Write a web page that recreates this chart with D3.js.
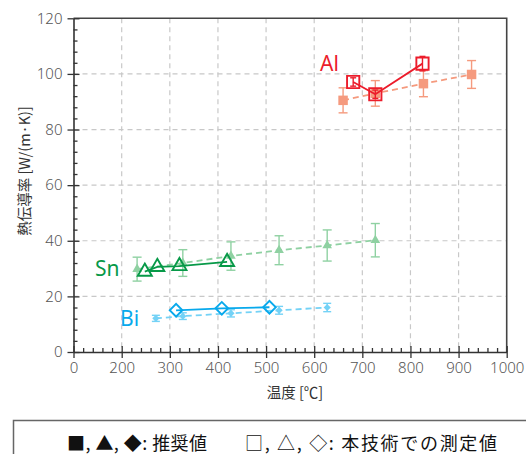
<!DOCTYPE html>
<html>
<head>
<meta charset="utf-8">
<script src="https://cdn.jsdelivr.net/npm/d3@7/dist/d3.min.js"></script>
<style>
  html, body { margin: 0; padding: 0; background: #fff; }
  svg { display: block; font-family: "Noto Sans CJK JP", "Noto Sans", sans-serif; }
</style>
</head>
<body>
<svg id="chart" width="526" height="454"></svg>
<script>
// Thermal conductivity of molten metals vs temperature
const xMajorTicks = [0, 200, 300, 400, 500, 600, 700, 800, 900, 1000];
const yMajorTicks = [0, 20, 40, 60, 80, 100, 120];

// Recommended values (filled markers, dashed line)
const alRecT   = [660, 727, 827, 927];
const alRecK   = [90.5, 93.0, 96.5, 99.8];
const alRecErr = [4.5, 4.6, 4.7, 5.0];

const snRecT   = [232, 327, 427, 527, 627, 727];
const snRecK   = [29.8, 32.0, 34.5, 36.6, 38.3, 40.2];
const snRecErr = [4.3, 4.8, 5.1, 5.2, 5.6, 6.0];

const biRecT   = [271, 327, 427, 527, 627];
const biRecK   = [12.1, 12.9, 13.9, 15.0, 16.0];
const biRecErr = [1.1, 1.2, 1.3, 1.4, 1.5];

// Values measured with this technique (open markers, solid line)
const alMeasT   = [681, 727, 825];
const alMeasK   = [97.1, 92.7, 103.7];
const alMeasErr = [1.5, 1.5, 2.6];

const snMeasT = [248, 274, 320, 419];
const snMeasK = [28.9, 30.6, 30.9, 32.4];

const biMeasT = [313, 408, 507];
const biMeasK = [15.0, 15.7, 16.1];

const svg = d3.select("#chart");

// Broken x axis: the 0–200 stretch takes the width of one 100 °C step
const x = d3.scaleLinear().domain([0, 200, 1000]).range([73.5, 121.7, 506.7]);
const y = d3.scaleLinear().domain([0, 120]).range([352, 18.3]);

const plotLeft = x(0), plotRight = x(1000), plotTop = y(120), plotBottom = y(0);

// Dashed grid
const grid = svg.append("g").attr("stroke", "#c8c8c8").attr("stroke-width", 1.2)
  .attr("stroke-dasharray", "5,4");
grid.selectAll("line.v").data(xMajorTicks.filter(d => d > 0 && d < 1000)).join("line")
  .attr("x1", d => x(d)).attr("x2", d => x(d)).attr("y1", plotTop).attr("y2", plotBottom);
grid.selectAll("line.h").data(yMajorTicks.filter(d => d > 0 && d < 120)).join("line")
  .attr("x1", plotLeft).attr("x2", plotRight).attr("y1", d => y(d)).attr("y2", d => y(d));

// Frame: top and right edges
svg.append("path")
  .attr("d", `M${plotLeft},${plotTop}H${plotRight}V${plotBottom}`)
  .attr("fill", "none").attr("stroke", "#444").attr("stroke-width", 1.6);

// Minor ticks
const xMinor = [40, 80, 120, 160];
for (let v = 220; v < 1000; v += 20) if (v % 100 !== 0) xMinor.push(v);
const yMinor = d3.range(4, 120, 4).filter(v => v % 20 !== 0);

function styleAxis(g) {
  g.select(".domain").attr("stroke", "#333").attr("stroke-width", 1.6);
  g.selectAll(".tick line").attr("stroke", "#333").attr("stroke-width", 1.3);
  g.selectAll(".tick text").attr("fill", "#555").style("font-size", "15px")
    .style("font-family", "'Noto Sans', 'DejaVu Sans', sans-serif").style("font-weight", "300");
}

// x axis
const gx = svg.append("g").attr("transform", `translate(0,${plotBottom})`);
gx.call(d3.axisBottom(x).tickValues(xMajorTicks).tickSizeInner(6).tickSizeOuter(0).tickPadding(4)
  .tickFormat(d3.format("d")));
styleAxis(gx);
const gxIn = svg.append("g").attr("transform", `translate(0,${plotBottom})`);
gxIn.call(d3.axisBottom(x).tickValues(xMajorTicks).tickSizeInner(-6).tickSizeOuter(0).tickFormat(""));
gxIn.call(g => g.select(".domain").remove());
styleAxis(gxIn);
const gxMinor = svg.append("g").attr("transform", `translate(0,${plotBottom})`);
gxMinor.call(d3.axisBottom(x).tickValues(xMinor).tickSizeInner(-4).tickSizeOuter(0).tickFormat(""));
gxMinor.call(g => g.select(".domain").remove());
styleAxis(gxMinor);

// y axis
const gy = svg.append("g").attr("transform", `translate(${plotLeft},0)`);
gy.call(d3.axisLeft(y).tickValues(yMajorTicks).tickSizeInner(6).tickSizeOuter(0).tickPadding(5));
styleAxis(gy);
const gyIn = svg.append("g").attr("transform", `translate(${plotLeft},0)`);
gyIn.call(d3.axisLeft(y).tickValues(yMajorTicks).tickSizeInner(-6).tickSizeOuter(0).tickFormat(""));
gyIn.call(g => g.select(".domain").remove());
styleAxis(gyIn);
const gyMinor = svg.append("g").attr("transform", `translate(${plotLeft},0)`);
gyMinor.call(d3.axisLeft(y).tickValues(yMinor).tickSizeInner(-4).tickSizeOuter(0).tickFormat(""));
gyMinor.call(g => g.select(".domain").remove());
styleAxis(gyMinor);

// Axis titles
svg.append("text")
  .attr("transform", "translate(23,171) rotate(-90)")
  .attr("text-anchor", "middle").attr("dominant-baseline", "central")
  .attr("fill", "#333").style("font-size", "14.5px")
  .text("熱伝導率 [W/(m·K)]");
svg.append("text")
  .attr("x", 295).attr("y", 398).attr("text-anchor", "middle")
  .attr("fill", "#333").style("font-size", "14.5px")
  .text("温度 [℃]");

const line = d3.line().x(d => x(d[0])).y(d => y(d[1]));

function drawSeries(opt) {
  const pts = opt.t.map((t, i) => [t, opt.k[i], opt.err ? opt.err[i] : 0]);
  const g = svg.append("g");
  g.append("path").attr("d", line(pts)).attr("fill", "none")
    .attr("stroke", opt.color).attr("stroke-width", opt.lineWidth)
    .attr("stroke-dasharray", opt.dash || null);
  if (opt.err) {
    const eb = g.append("g").attr("stroke", opt.color).attr("stroke-width", 1.4);
    const cap = opt.cap;
    eb.selectAll("line.s").data(pts).join("line")
      .attr("x1", d => x(d[0])).attr("x2", d => x(d[0]))
      .attr("y1", d => y(d[1] - d[2])).attr("y2", d => y(d[1] + d[2]));
    eb.selectAll("line.t").data(pts).join("line")
      .attr("x1", d => x(d[0]) - cap).attr("x2", d => x(d[0]) + cap)
      .attr("y1", d => y(d[1] + d[2])).attr("y2", d => y(d[1] + d[2]));
    eb.selectAll("line.b").data(pts).join("line")
      .attr("x1", d => x(d[0]) - cap).attr("x2", d => x(d[0]) + cap)
      .attr("y1", d => y(d[1] - d[2])).attr("y2", d => y(d[1] - d[2]));
  }
  g.selectAll("path.m").data(pts).join("path")
    .attr("d", d3.symbol().type(opt.symbol).size(opt.size))
    .attr("transform", d => `translate(${x(d[0])},${y(d[1])}) rotate(${opt.rotate || 0})`)
    .attr("fill", opt.filled ? opt.color : "none")
    .attr("stroke", opt.filled ? "none" : opt.color)
    .attr("stroke-width", opt.filled ? 0 : 1.9);
}

const alRecColor = "#f59a7e", alMeasColor = "#ec1c2b";
const snRecColor = "#8fd1a2", snMeasColor = "#079948";
const biRecColor = "#74d2f6", biMeasColor = "#08a9ec";

drawSeries({ t: alRecT, k: alRecK, err: alRecErr, color: alRecColor, lineWidth: 1.8, dash: "6,4",
  cap: 4.5, symbol: d3.symbolSquare, size: 90, filled: true });
drawSeries({ t: snRecT, k: snRecK, err: snRecErr, color: snRecColor, lineWidth: 1.8, dash: "6,4",
  cap: 4.5, symbol: d3.symbolTriangle, size: 40, filled: true });
drawSeries({ t: biRecT, k: biRecK, err: biRecErr, color: biRecColor, lineWidth: 1.8, dash: "6,4",
  cap: 4, symbol: d3.symbolSquare, size: 26, filled: true, rotate: 45 });

drawSeries({ t: alMeasT, k: alMeasK, err: alMeasErr, color: alMeasColor, lineWidth: 1.8,
  cap: 3, symbol: d3.symbolSquare, size: 150, filled: false });
drawSeries({ t: snMeasT, k: snMeasK, color: snMeasColor, lineWidth: 1.8,
  symbol: d3.symbolTriangle, size: 85, filled: false });
drawSeries({ t: biMeasT, k: biMeasK, color: biMeasColor, lineWidth: 1.8,
  symbol: d3.symbolSquare, size: 80, filled: false, rotate: 45 });

// Series labels
const labelFont = "'Noto Sans', 'DejaVu Sans', sans-serif";
svg.append("text").attr("x", 320).attr("y", 71).attr("fill", alMeasColor)
  .style("font-size", "21px").style("font-family", labelFont).text("Al");
svg.append("text").attr("x", 95).attr("y", 276).attr("fill", snMeasColor)
  .style("font-size", "21px").style("font-family", labelFont).text("Sn");
svg.append("text").attr("x", 120).attr("y", 326).attr("fill", biMeasColor)
  .style("font-size", "21px").style("font-family", labelFont).text("Bi");

// Marker key box
svg.append("rect").attr("x", 13.5).attr("y", 420.5).attr("width", 530).attr("height", 60)
  .attr("fill", "#fff").attr("stroke", "#666").attr("stroke-width", 1.5);
svg.append("text").attr("x", 67).attr("y", 450).attr("fill", "#111")
  .attr("textLength", 140).attr("lengthAdjust", "spacing")
  .style("font-size", "18px").text("■, ▲, ◆: 推奨値");
svg.append("text").attr("x", 245).attr("y", 450).attr("fill", "#111")
  .attr("textLength", 252).attr("lengthAdjust", "spacing")
  .style("font-size", "18px").text("□, △, ◇: 本技術での測定値");
</script>
</body>
</html>
